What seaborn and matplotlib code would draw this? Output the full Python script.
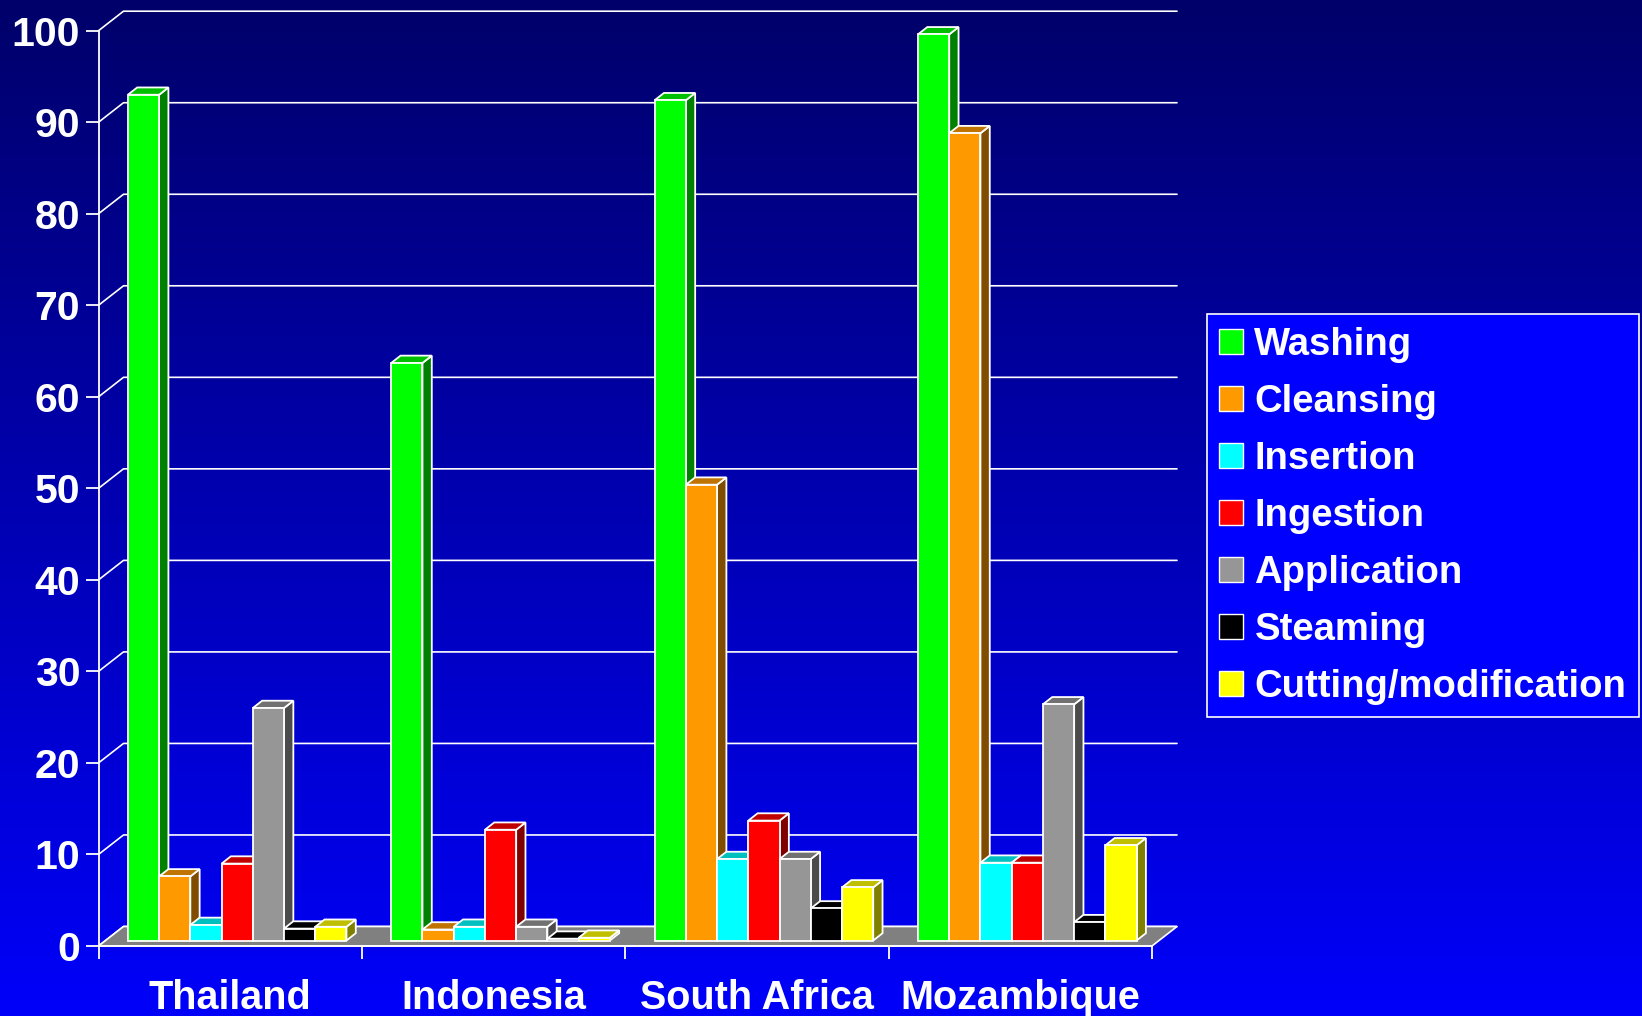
import numpy as np
import pandas as pd
import matplotlib
matplotlib.use("Agg")
import matplotlib.pyplot as plt
import matplotlib.transforms as mtransforms
from matplotlib.patches import Polygon, Patch
from matplotlib.colors import LinearSegmentedColormap, to_rgb
import seaborn as sns

# ---- data -------------------------------------------------------------
countries = ["Thailand", "Indonesia", "South Africa", "Mozambique"]
methods = ["Washing", "Cleansing", "Insertion", "Ingestion",
           "Application", "Steaming", "Cutting/modification"]
washing = [92.4, 63.1, 91.8, 99.0]
cleansing = [7.0, 1.2, 49.8, 88.2]
insertion = [1.7, 1.5, 8.9, 8.5]
ingestion = [8.4, 12.1, 13.1, 8.5]
application = [25.4, 1.5, 8.9, 25.8]
steaming = [1.3, 0.2, 3.5, 2.0]
cutting = [1.5, 0.3, 5.8, 10.4]
colors = ["#00FF00", "#FF9900", "#00FFFF", "#FF0000", "#969696", "#000000", "#FFFF00"]
yticks = list(range(0, 101, 10))

series = [washing, cleansing, insertion, ingestion, application, steaming, cutting]
df = pd.DataFrame({
    "country": [c for _ in methods for c in countries],
    "method": [m for m in methods for _ in countries],
    "value": [v for s in series for v in s],
})

# ---- figure ------------------------------------------------------------
W, H, DPI = 1642, 1016, 100
sns.set_theme(style="white")
plt.rcParams["font.family"] = ["Liberation Sans", "DejaVu Sans"]
plt.rcParams["font.weight"] = "bold"

fig = plt.figure(figsize=(W / DPI, H / DPI), dpi=DPI)

# vertical gradient backdrop
bg = fig.add_axes([0, 0, 1, 1], zorder=-10)
grad = np.linspace(0, 1, 256).reshape(-1, 1)
cmap = LinearSegmentedColormap.from_list("backdrop", ["#00006A", "#0000FA"])
bg.imshow(grad, aspect="auto", cmap=cmap, extent=[0, 1, 0, 1], origin="upper")
bg.set_axis_off()

# front plane of the chart box (pixels)
px_left, px_right = 98.5, 1152.0
px_y0, px_y100 = 946.0, 30.7
ax = fig.add_axes([px_left / W, (H - px_y0) / H,
                   (px_right - px_left) / W, (px_y0 - px_y100) / H])
ax.set_facecolor("none")

sns.barplot(data=df, x="country", y="value", hue="method",
            order=countries, hue_order=methods,
            palette=dict(zip(methods, colors)), saturation=1,
            width=0.83, errorbar=None, legend=False, ax=ax)

ax.set_xlim(-0.5, 3.5)
ax.set_ylim(0, 100)
ax.set_xlabel("")
ax.set_ylabel("")

sx = (px_right - px_left) / 4.0      # px per x unit
sy = (px_y0 - px_y100) / 100.0       # px per y unit

# depth of the walls
wdx, wdy = 25 / sx, 19.5 / sy
# depth of each bar
bdx, bdy = 9.3 / sx, 7.3 / sy

# side wall + back wall gridlines
for v in yticks:
    ax.plot([-0.5, -0.5 + wdx, 3.5 + wdx], [v, v + wdy, v + wdy],
            color="white", lw=1.2, clip_on=False, zorder=1)

# floor
floor = Polygon([(-0.5, 0), (3.5, 0), (3.5 + wdx, wdy), (-0.5 + wdx, wdy)],
                closed=True, facecolor="#808080", edgecolor="white",
                lw=1.2, clip_on=False, zorder=2)
ax.add_patch(floor)

# 3-D bars: shift fronts back a little and add top/side faces
bar_tr = mtransforms.offset_copy(ax.transData, fig=fig, x=7, y=5.5, units="dots")
bars = sorted([p for p in ax.patches if p is not floor], key=lambda p: p.get_x())
for i, p in enumerate(bars):
    x0, w, h = p.get_x(), p.get_width(), p.get_height()
    rgb = np.array(to_rgb(p.get_facecolor()))
    p.set_transform(bar_tr)
    p.set_edgecolor("white")
    p.set_linewidth(1.3)
    p.set_clip_on(False)
    p.set_zorder(10 + 3 * i + 2)
    side = Polygon([(x0 + w, 0), (x0 + w + bdx, bdy), (x0 + w + bdx, h + bdy), (x0 + w, h)],
                   closed=True, facecolor=rgb * 0.5, edgecolor="white", lw=1.3,
                   transform=bar_tr, clip_on=False, zorder=10 + 3 * i)
    top = Polygon([(x0, h), (x0 + w, h), (x0 + w + bdx, h + bdy), (x0 + bdx, h + bdy)],
                  closed=True, facecolor=rgb * 0.75, edgecolor="white", lw=1.3,
                  transform=bar_tr, clip_on=False, zorder=10 + 3 * i + 1)
    ax.add_patch(side)
    ax.add_patch(top)

# axes styling
for s in ["top", "right"]:
    ax.spines[s].set_visible(False)
for s in ["left", "bottom"]:
    ax.spines[s].set_color("white")
    ax.spines[s].set_linewidth(1.3)
    ax.spines[s].set_zorder(3)

ax.set_yticks(yticks)
ax.set_yticklabels([str(v) for v in yticks])
ax.tick_params(axis="y", colors="white", length=9.7, width=1.3, pad=3.5,
               labelsize=29.5, left=True)
ax.set_xticks(range(len(countries)))
ax.set_xticklabels(countries)
ax.set_xticks(np.arange(-0.5, 4.0, 1.0), minor=True)
ax.tick_params(axis="x", which="major", length=0, pad=24, labelsize=28.5,
               colors="white")
ax.tick_params(axis="x", which="minor", length=9.5, width=1.3, colors="white",
               bottom=True)
for t in ax.get_xticklabels() + ax.get_yticklabels():
    t.set_fontweight("bold")
    t.set_color("white")

# legend
handles = [Patch(facecolor=c, edgecolor="white", lw=1.0) for c in colors]
leg = fig.legend(handles, methods, loc="upper left",
                 bbox_to_anchor=(1206.7 / W, 1 - 314 / H),
                 frameon=True, fancybox=False, facecolor="#0000FF",
                 edgecolor="white", fontsize=27.5, handlelength=0.62,
                 handleheight=0.62, handletextpad=0.3, borderpad=0.33,
                 labelspacing=0.55, borderaxespad=0)
leg.get_frame().set_linewidth(1.2)
leg.get_frame().set_alpha(1)
for t in leg.get_texts():
    t.set_color("white")
    t.set_fontweight("bold")

fig.savefig("out.png", dpi=DPI)
